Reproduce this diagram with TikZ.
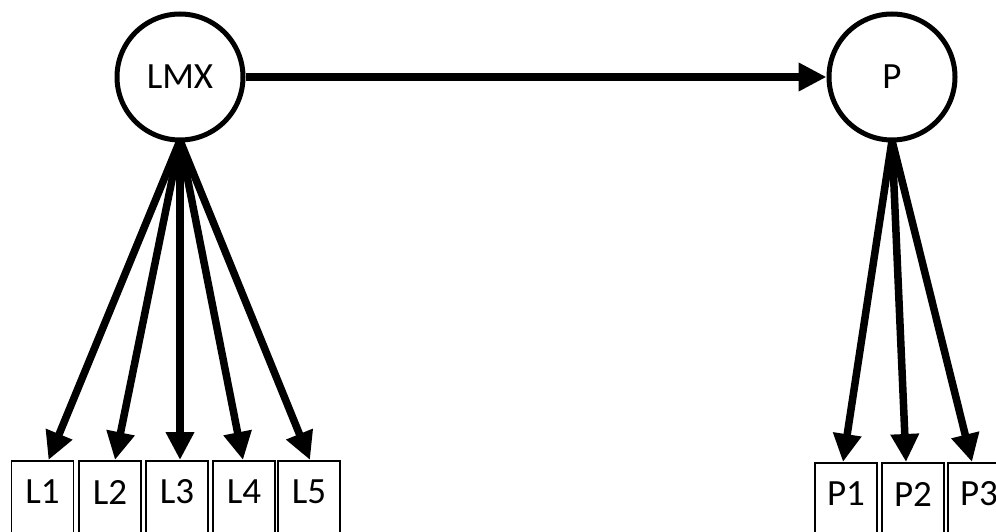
\documentclass[tikz,border=0pt]{standalone}
\usepackage{fontspec}
\setmainfont{Carlito}
\usetikzlibrary{arrows.meta}
\begin{document}
\begin{tikzpicture}[x=1pt,y=-1pt,
  lat/.style={circle,draw,line width=5pt,minimum size=126pt,inner sep=0pt,font=\fontsize{37}{44}\selectfont},
  obs/.style={rectangle,draw,line width=1.5pt,minimum width=62pt,minimum height=110pt,anchor=north,inner sep=0pt},
  lbl/.style={font=\fontsize{37}{44}\selectfont},
  arr/.style={line width=7.5pt,-{Triangle[length=28pt,width=27pt]}}]
\useasboundingbox (0,0) rectangle (996,532);
\clip (0,0) rectangle (996,532);
\node[lat] (lmx) at (180,77) {LMX};
\node[lat] (p) at (892,77) {P};
\node[obs] (l1) at (42.5,460) {};
\node[obs] (l2) at (110,460) {};
\node[obs] (l3) at (177,460) {};
\node[obs] (l4) at (244,460) {};
\node[obs] (l5) at (309,460) {};
\node[obs] (p1) at (846,462) {};
\node[obs] (p2) at (913,462) {};
\node[obs] (p3) at (979,462) {};
\foreach \n/\t in {l1/L1,l2/L2,l3/L3,l4/L4,l5/L5,p1/P1,p2/P2,p3/P3}{
  \node[lbl] at ([yshift=-32pt]\n.north) {\t};
}
\draw[arr] (lmx.east) -- (p.west);
\coordinate (ls) at ([yshift=2pt]lmx.south);
\coordinate (ps) at ([yshift=2pt]p.south);
\draw[arr] (ls) -- ([xshift=6pt]l1.north);
\draw[arr] (ls) -- ([xshift=5pt]l2.north);
\draw[arr] (ls) -- ([xshift=3pt]l3.north);
\draw[arr] (ls) -- ([xshift=-1pt]l4.north);
\draw[arr] (ls) -- ([xshift=1pt]l5.north);
\draw[arr] (ps) -- ([xshift=-3pt]p1.north);
\draw[arr] (ps) -- ([xshift=-7pt]p2.north);
\draw[arr] (ps) -- ([xshift=-7pt]p3.north);
\end{tikzpicture}
\end{document}
